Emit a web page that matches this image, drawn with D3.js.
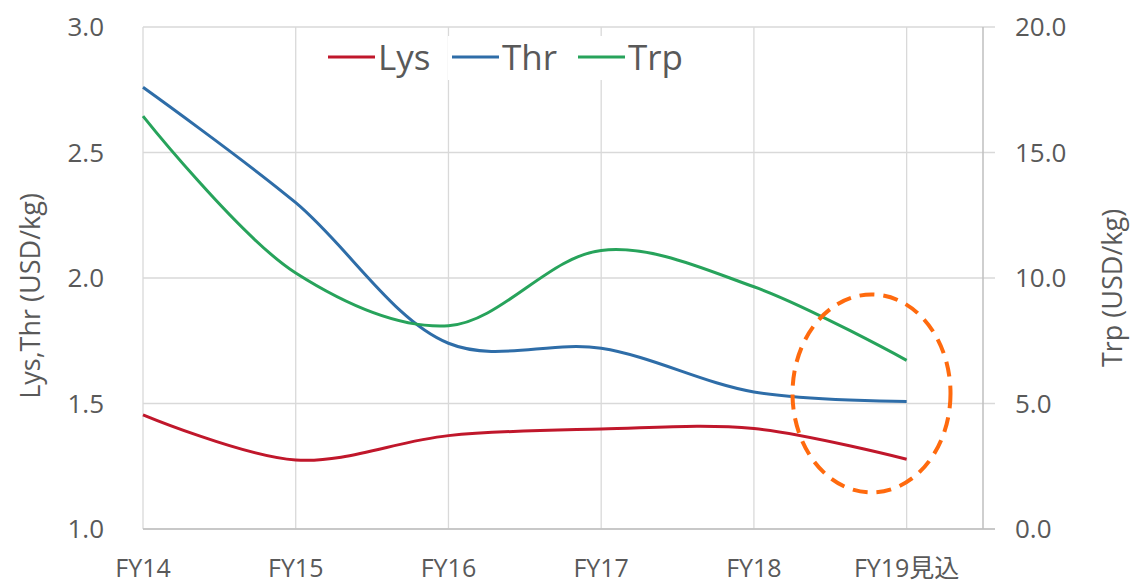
<!DOCTYPE html>
<html><head><meta charset="utf-8">
<script src="https://cdn.jsdelivr.net/npm/d3@7"></script>
<style>body{margin:0;background:#fff;} text{font-family:"Open Sans","Noto Sans CJK JP",sans-serif;fill:#595959;}</style>
</head><body>
<svg id="c" width="1133" height="587"></svg>
<script>
const categories = ["FY14","FY15","FY16","FY17","FY18","FY19見込"];
const lysValues = [1.455, 1.275, 1.372, 1.398, 1.400, 1.278];
const thrValues = [2.760, 2.300, 1.740, 1.720, 1.546, 1.508];
const trpValues = [16.45, 10.20, 8.10, 11.10, 9.65, 6.72];
const leftTicks = [1.0, 1.5, 2.0, 2.5, 3.0];
const rightTicks = [0, 5, 10, 15, 20];
const seriesNames = ["Lys","Thr","Trp"];
const colors = {Lys:"#C0172B", Thr:"#2E6DA8", Trp:"#27A35B"};

const svg = d3.select("#c");
const L=143, R=983, T=27, B=529;
const x = d3.scaleLinear().domain([0, categories.length - 0.5]).range([L, R]);
const yL = d3.scaleLinear().domain([1, 3]).range([B, T]);
const yR = d3.scaleLinear().domain([0, 20]).range([B, T]);

const g = svg.append("g");
g.selectAll(".hg").data(leftTicks).join("line")
  .attr("x1", L).attr("x2", R + 12)
  .attr("y1", d => yL(d)).attr("y2", d => yL(d))
  .attr("stroke", "#D9D9D9").attr("stroke-width", 1.3);
g.selectAll(".vg").data(categories).join("line")
  .attr("x1", (d,i) => x(i)).attr("x2", (d,i) => x(i))
  .attr("y1", T).attr("y2", B)
  .attr("stroke", "#D9D9D9").attr("stroke-width", 1.3);
g.append("line").attr("x1", R).attr("x2", R).attr("y1", T).attr("y2", B)
  .attr("stroke", "#BFBFBF").attr("stroke-width", 1.5);
g.append("line").attr("x1", L).attr("x2", R + 12).attr("y1", B).attr("y2", B)
  .attr("stroke", "#BFBFBF").attr("stroke-width", 1.5);

g.selectAll(".lt").data(leftTicks).join("text")
  .attr("x", 104).attr("y", d => yL(d)).attr("dy", "0.36em")
  .attr("text-anchor", "end").attr("font-size", 26)
  .text(d => d3.format(".1f")(d));
g.selectAll(".rt").data(rightTicks).join("text")
  .attr("x", 1015).attr("y", d => yR(d)).attr("dy", "0.36em")
  .attr("text-anchor", "start").attr("font-size", 26)
  .text(d => d3.format(".1f")(d));
g.selectAll(".ct").data(categories).join("text")
  .attr("x", (d,i) => x(i)).attr("y", 577)
  .attr("text-anchor", "middle").attr("font-size", 25)
  .text(d => d);

svg.append("text").attr("transform", "translate(40,296) rotate(-90)")
  .attr("text-anchor", "middle").attr("font-size", 27).text("Lys,Thr (USD/kg)");
svg.append("text").attr("transform", "translate(1122,288) rotate(-90)")
  .attr("text-anchor", "middle").attr("font-size", 27).text("Trp (USD/kg)");

const curve = d3.curveCatmullRom.alpha(0.5);
const lineL = d3.line().x((d,i) => x(i)).y(d => yL(d)).curve(curve);
const lineR = d3.line().x((d,i) => x(i)).y(d => yR(d)).curve(curve);
svg.append("path").attr("d", lineL(lysValues)).attr("fill","none").attr("stroke", colors.Lys).attr("stroke-width", 3);
svg.append("path").attr("d", lineL(thrValues)).attr("fill","none").attr("stroke", colors.Thr).attr("stroke-width", 3);
svg.append("path").attr("d", lineR(trpValues)).attr("fill","none").attr("stroke", colors.Trp).attr("stroke-width", 3);

const legX = [328, 452, 578];
const leg = svg.append("g");
seriesNames.forEach((s, i) => {
  leg.append("rect").attr("x", legX[i] - 4).attr("y", 36).attr("width", i===2?110:118).attr("height", 44).attr("fill", "#fff");
});
seriesNames.forEach((s, i) => {
  leg.append("line").attr("x1", legX[i]).attr("x2", legX[i] + 47).attr("y1", 57).attr("y2", 57)
    .attr("stroke", colors[s]).attr("stroke-width", 3);
  leg.append("text").attr("x", legX[i] + 50).attr("y", 57).attr("dy", "0.36em")
    .attr("font-size", 35).text(s);
});

svg.append("ellipse").attr("cx", x(4.77)).attr("cy", yL(1.54)).attr("rx", 79).attr("ry", 99)
  .attr("fill", "none").attr("stroke", "#FF6A0E").attr("stroke-width", 4)
  .attr("stroke-dasharray", "15,9");
</script>
</body></html>
